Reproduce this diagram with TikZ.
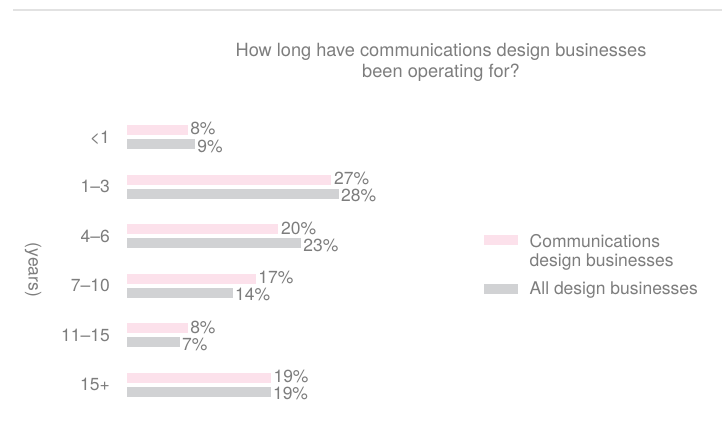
\documentclass[tikz,border=0pt]{standalone}
\usepackage{fontspec}
\setmainfont{TeX Gyre Heros}
\definecolor{pinkbar}{HTML}{FCE1EB}
\definecolor{graybar}{HTML}{D1D2D4}
\definecolor{txt}{HTML}{7D7D7D}
\definecolor{rulecol}{HTML}{E2E2E2}
\begin{document}
\begin{tikzpicture}[x=1pt,y=-1pt,
  lbl/.style={font=\fontsize{17.5}{21}\selectfont, text=txt, inner sep=0pt},
  ttl/.style={font=\fontsize{18.2}{21}\selectfont, text=txt, inner sep=0pt},
  pinkfill/.style={fill=pinkbar},
  grayfill/.style={fill=graybar}]
\useasboundingbox (0,0) rectangle (722,425);
\coordinate (ruleA) at (13,10);
\coordinate (ruleB) at (722,10);
\draw[rulecol, line width=1.5pt] (ruleA) -- (ruleB);
\node[ttl, anchor=base] (title1) at (441,57) {How long have communications design businesses};
\node[ttl, anchor=base] (title2) at (441,78) {been operating for?};
\foreach \lab/\a/\b [count=\i from 0] in {<1/8/9, 1--3/27/28, 4--6/20/23, 7--10/17/14, 11--15/8/7, 15+/19/19}{
  \pgfmathsetmacro\yt{125+49.5*\i}
  \pgfmathsetmacro\xa{127+7.57*\a}
  \pgfmathsetmacro\xb{127+7.57*\b}
  \fill[pinkfill] (127,\yt) rectangle (\xa,\yt+10);
  \fill[grayfill] (127,\yt+14.3) rectangle (\xb,\yt+24.3);
  \node[lbl, anchor=base west] (pv\i) at (\xa+2.5,\yt+10) {\a\%};
  \node[lbl, anchor=base west] (gv\i) at (\xb+2,\yt+27) {\b\%};
  \node[lbl, anchor=base east] (cat\i) at (110,\yt+18.3) {\lab};
}
\node[lbl, rotate=-90] (ylab) at (33,270) {(years)};
\fill[pinkfill] (484,235.3) rectangle (518,245);
\fill[grayfill] (484,284.3) rectangle (518,294.3);
\node[lbl, anchor=base west] (leg1a) at (529.5,247) {Communications};
\node[lbl, anchor=base west] (leg1b) at (529.5,266.5) {design businesses};
\node[lbl, anchor=base west] (leg2) at (529.5,294) {All design businesses};
\end{tikzpicture}
\end{document}
